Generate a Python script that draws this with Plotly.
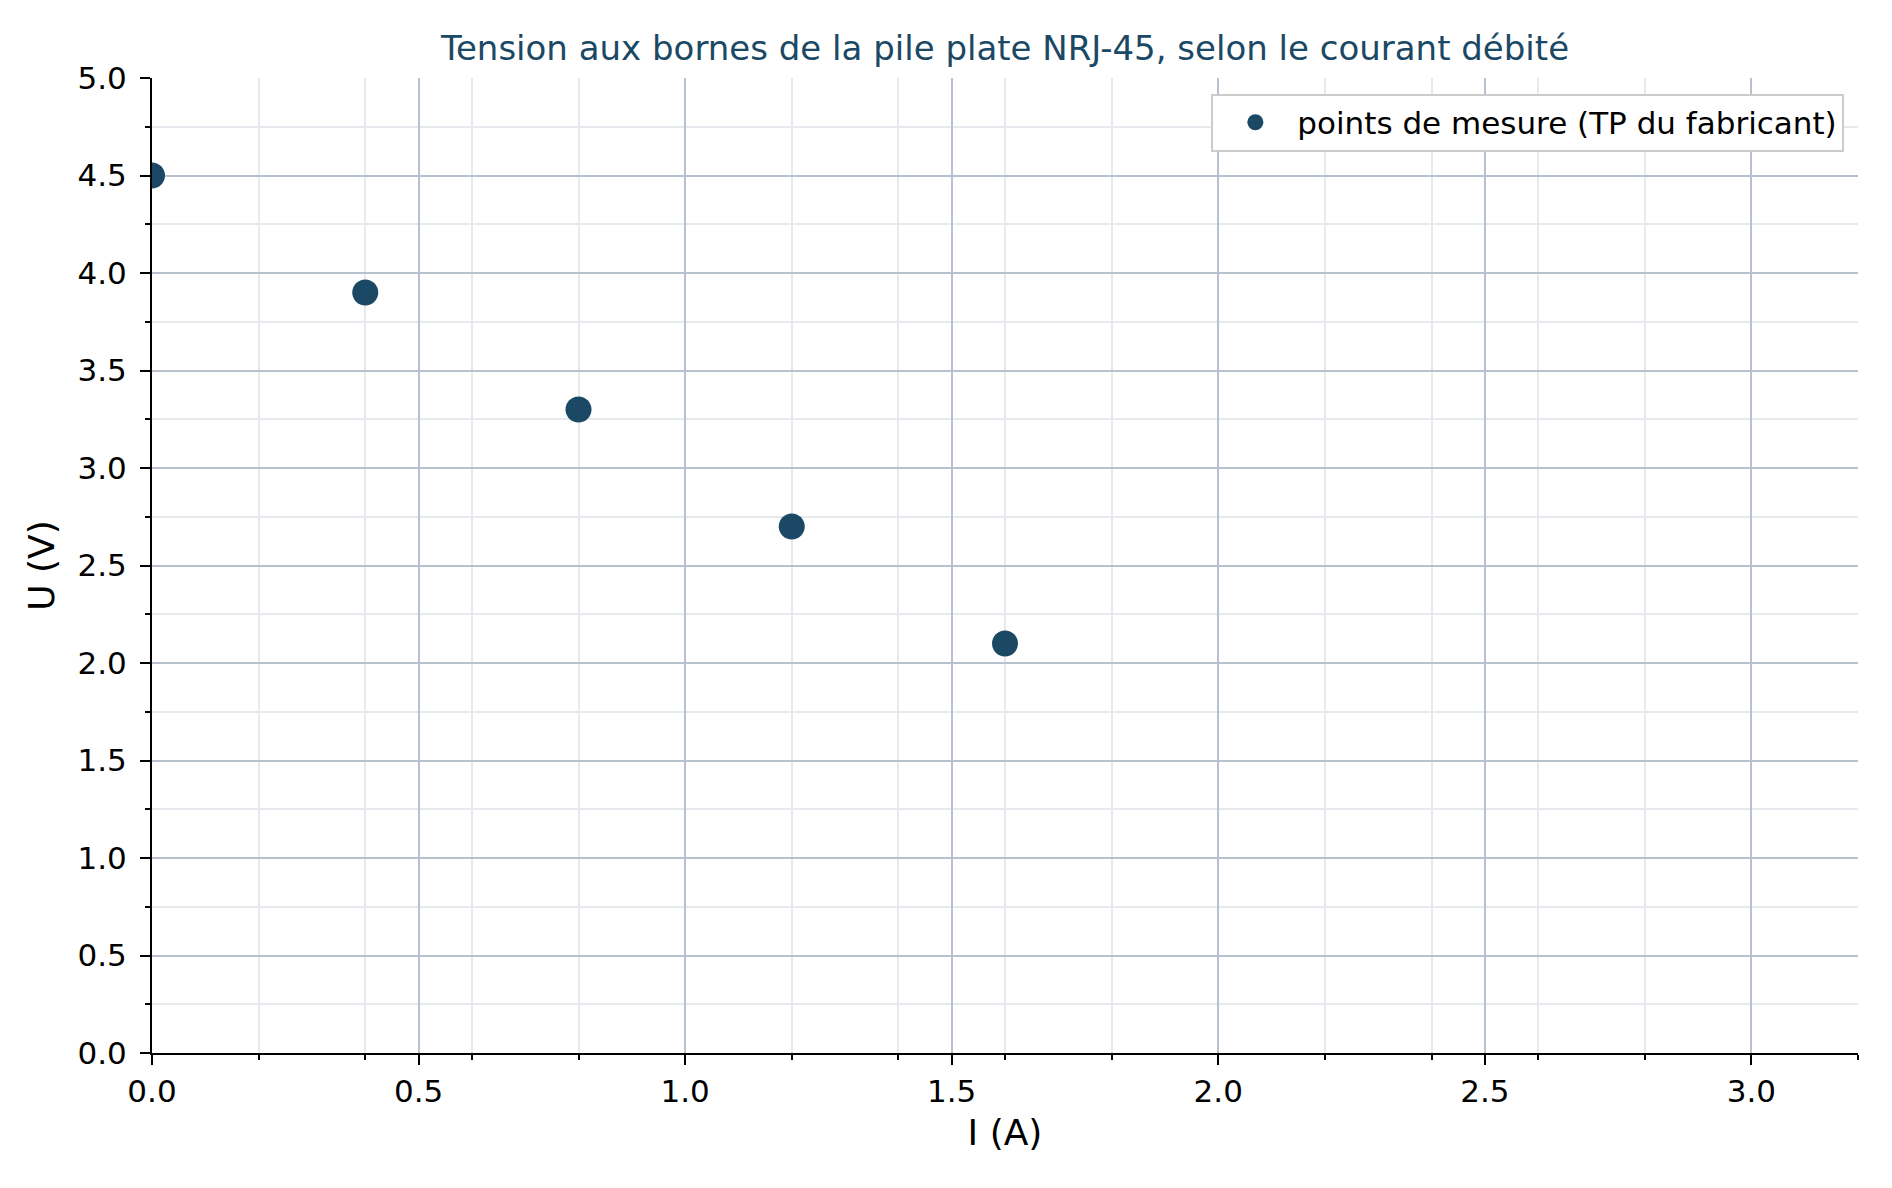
import plotly.graph_objects as go

current_A = [0.0, 0.4, 0.8, 1.2, 1.6]
voltage_V = [4.5, 3.9, 3.3, 2.7, 2.1]
series_name = "points de mesure (TP du fabricant)"
title_text = "Tension aux bornes de la pile plate NRJ-45, selon le courant débité"
x_title = "I (A)"
y_title = "U (V)"

dark = "#1b4965"
major_grid = "#b8c2cf"
minor_grid = "#e6e9ee"
font_family = "DejaVu Sans, sans-serif"

fig = go.Figure()
fig.add_trace(go.Scatter(
    x=current_A, y=voltage_V, mode="markers", name=series_name,
    marker=dict(size=26, color=dark, line=dict(width=0)),
    cliponaxis=True,
))

fig.update_layout(
    width=1892, height=1188,
    margin=dict(l=144, r=42, t=70, b=143),
    paper_bgcolor="white", plot_bgcolor="white",
    font=dict(family=font_family, color="black", size=31),
    title=dict(text=title_text, x=0.5, xref="paper", xanchor="center",
               y=1 - 40 / 1188, yref="container", yanchor="middle",
               font=dict(size=34, color=dark, family=font_family)),
    showlegend=True,
    legend=dict(x=0.992, xanchor="right", y=0.984, yanchor="top",
                bgcolor="white", bordercolor="#cccccc", borderwidth=2,
                font=dict(size=31, family=font_family), itemsizing="trace",
                itemwidth=74),
)

fig.update_xaxes(
    range=[0, 3.2], tick0=0, dtick=0.5, tickformat=".1f",
    showline=True, linecolor="black", linewidth=2, mirror=False,
    ticks="outside", ticklen=10, tickwidth=2, tickcolor="black",
    showgrid=True, gridcolor=major_grid, gridwidth=2, zeroline=False,
    minor=dict(dtick=0.2, tick0=0, ticks="outside", ticklen=5, tickwidth=1.5,
               tickcolor="black", showgrid=True, gridcolor=minor_grid, gridwidth=1.5),
    title=dict(text=x_title, font=dict(size=36, family=font_family), standoff=12),
    tickfont=dict(size=31),
)
fig.update_yaxes(
    range=[0, 5], tick0=0, dtick=0.5, tickformat=".1f",
    showline=True, linecolor="black", linewidth=2, mirror=False,
    ticks="outside", ticklen=10, tickwidth=2, tickcolor="black",
    showgrid=True, gridcolor=major_grid, gridwidth=2, zeroline=False,
    minor=dict(dtick=0.25, tick0=0, ticks="outside", ticklen=5, tickwidth=1.5,
               tickcolor="black", showgrid=True, gridcolor=minor_grid, gridwidth=1.5),
    title=dict(text=y_title, font=dict(size=36, family=font_family), standoff=12),
    tickfont=dict(size=31), ticklabelstandoff=7,
)

fig.write_html("out.html")
